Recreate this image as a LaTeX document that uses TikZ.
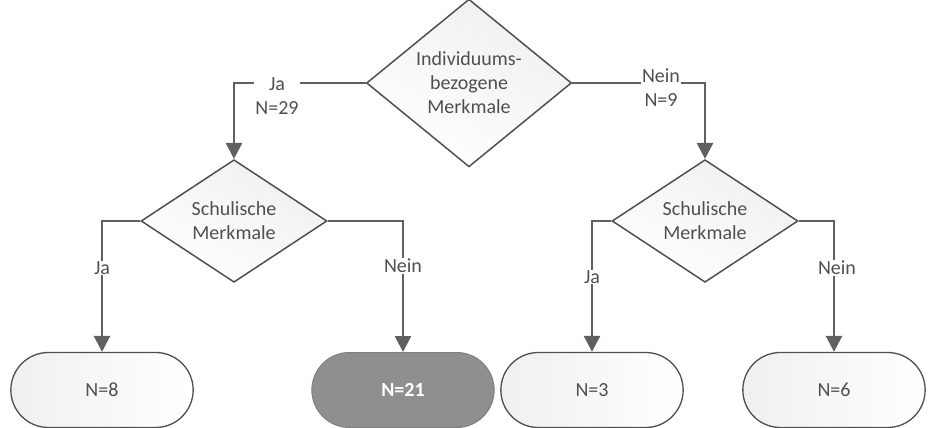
\documentclass[tikz,border=0pt]{standalone}
\usepackage{fontspec}
\setmainfont{Carlito}
\usetikzlibrary{shapes.geometric,shapes.misc,arrows.meta}
\definecolor{linegray}{HTML}{606060}
\definecolor{txtgray}{HTML}{505050}
\definecolor{boxgray}{HTML}{8F8F8F}
\begin{document}
\begin{tikzpicture}[x=1pt,y=-1pt,
  font=\fontsize{20}{24}\selectfont,
  decision/.style={diamond,draw=txtgray,line width=1.5pt,inner sep=0pt,align=center,text=txtgray,
    top color=gray!12,bottom color=white,shading angle=-30},
  terminal/.style={rounded rectangle,draw=txtgray,line width=1.3pt,minimum width=189pt,minimum height=75pt,
    text=txtgray,left color=gray!12,right color=white},
  result/.style={rounded rectangle,draw=boxgray!90!black,fill=boxgray,line width=1pt,minimum width=189pt,minimum height=75pt,
    text=white,font=\fontsize{20}{24}\selectfont\bfseries},
  conn/.style={draw=linegray,line width=2.6pt,-{Triangle[width=16pt,length=16pt]}},
  lbl/.style={fill=white,text=txtgray,align=center,inner sep=1pt}]
\useasboundingbox (0,0) rectangle (930,428);
\node[decision,minimum width=205pt,minimum height=149pt] (top) at (469,83) {Individuums-\\bezogene\\Merkmale};
\node[decision,minimum width=186pt,minimum height=112pt] (dl) at (234,221) {Schulische\\Merkmale};
\node[decision,minimum width=186pt,minimum height=112pt] (dr) at (705,221) {Schulische\\Merkmale};
\node[terminal] (b1) at (102,390) {N=8};
\node[result] (b2) at (403,390) {N=21};
\node[terminal] (b3) at (592,390) {N=3};
\node[terminal] (b4) at (834,390) {N=6};
\draw[conn] (top.west) -| (dl.north);
\draw[conn] (top.east) -| (dr.north);
\draw[conn] (dl.west) -| (b1.north);
\draw[conn] (dl.east) -| (b2.north);
\draw[conn] (dr.west) -| (b3.north);
\draw[conn] (dr.east) -| (b4.north);
\node[lbl] (l1) at (277,96) {Ja\\N=29};
\node[lbl] (l2) at (661,88) {Nein\\N=9};
\node[lbl] (l3) at (102,268) {Ja};
\node[lbl] (l4) at (403,266) {Nein};
\node[lbl] (l5) at (592,277) {Ja};
\node[lbl] (l6) at (837,268) {Nein};
\end{tikzpicture}
\end{document}
